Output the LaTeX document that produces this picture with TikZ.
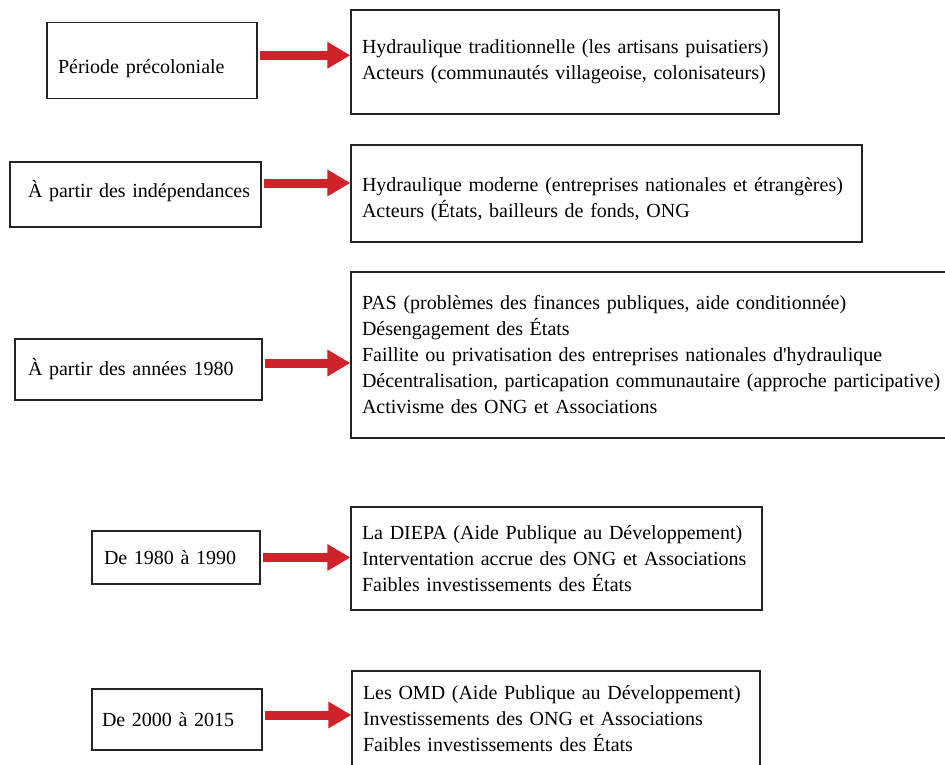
\documentclass[tikz,border=0pt]{standalone}
\usepackage{fontspec}
\setmainfont{Liberation Serif}
\usetikzlibrary{arrows.meta}
\definecolor{arrred}{RGB}{208,34,42}
\definecolor{boxline}{RGB}{35,35,35}
\newcommand{\txtshift}[2]{\raisebox{-#1}[\height][\depth]{#2}}
\begin{document}
\begin{tikzpicture}[x=1pt,y=-1pt,
  box/.style={draw=boxline, line width=1.1pt, rectangle, align=left, inner ysep=0pt,
    font=\fontsize{20}{26}\selectfont, anchor=center},
  conn/.style={draw=arrred, line width=9pt, -{Triangle[length=23pt,width=25pt]}, shorten <=2pt}
]
\useasboundingbox (0,0) rectangle (945,765);
\clip (0,0) rectangle (945,765);
\fill[white] (0,0) rectangle (945,765);

% left boxes
\node[box, inner xsep=11pt, text width=188pt, minimum height=76pt] (L1) at (152,60.3)
  {\txtshift{8pt}{Période précoloniale}};
\node[box, inner xsep=18pt, text width=215pt, minimum height=65pt] (L2) at (135.5,194.5)
  {\txtshift{-3pt}{\mbox{À partir des indépendances}}};
\node[box, inner xsep=13pt, text width=221pt, minimum height=61pt] (L3) at (138.5,369.5)
  {\mbox{À partir des années 1980}};
\node[box, inner xsep=12pt, text width=144pt, minimum height=53pt] (L4) at (176,557.5)
  {\mbox{De 1980 à 1990}};
\node[box, inner xsep=10pt, text width=150pt, minimum height=61pt] (L5) at (177,719.5)
  {\mbox{De 2000 à 2015}};

% right boxes
\node[box, inner xsep=11pt, text width=406pt, minimum height=104pt] (R1) at (565,62)
  {\mbox{Hydraulique traditionnelle (les artisans puisatiers)}\\Acteurs (communautés villageoise, colonisateurs)};
\node[box, inner xsep=11pt, text width=489pt, minimum height=97pt] (R2) at (606.5,193.5)
  {\txtshift{6pt}{\mbox{Hydraulique moderne (entreprises nationales et étrangères)}}\\\txtshift{6pt}{\mbox{Acteurs (États, bailleurs de fonds, ONG}}};
\node[box, inner xsep=11pt, text width=590pt, minimum height=166pt] (R3) at (657,355)
  {PAS (problèmes des finances publiques, aide conditionnée)\\Désengagement des États\\Faillite ou privatisation des entreprises nationales d\textquotesingle hydraulique\\\mbox{Décentralisation, particapation communautaire (approche participative)}\\Activisme des ONG et Associations};
\node[box, inner xsep=11pt, text width=389pt, minimum height=103pt] (R4) at (556.5,558.5)
  {La DIEPA (Aide Publique au Développement)\\Interventation accrue des ONG et Associations\\Faibles investissements des États};
\node[box, inner xsep=11pt, text width=386pt, minimum height=96pt] (R5) at (556,719)
  {Les OMD (Aide Publique au Développement)\\Investissements des ONG et Associations\\Faibles investissements des États};

% arrows
\coordinate (a1) at ([yshift=5pt]L1.east);
\coordinate (a2) at ([yshift=11.5pt]L2.east);
\coordinate (a3) at ([yshift=6.5pt]L3.east);
\coordinate (a4) at (L4.east);
\coordinate (a5) at ([yshift=4.5pt]L5.east);
\draw[conn] (a1) -- (a1 -| R1.west);
\draw[conn] (a2) -- (a2 -| R2.west);
\draw[conn] (a3) -- (a3 -| R3.west);
\draw[conn] (a4) -- (a4 -| R4.west);
\draw[conn] (a5) -- (a5 -| R5.west);
\end{tikzpicture}
\end{document}
